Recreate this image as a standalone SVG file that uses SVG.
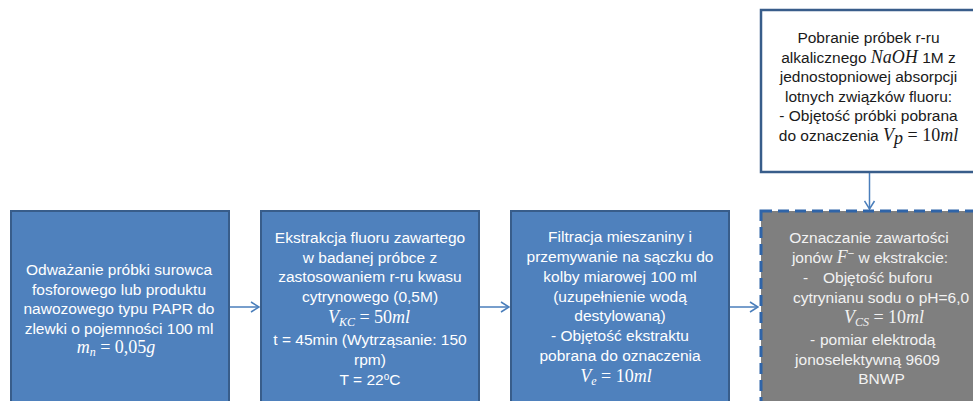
<svg xmlns="http://www.w3.org/2000/svg" width="973" height="401" viewBox="0 0 973 401">
<style>
.box{fill:#4f81bd;stroke:#385d8a;stroke-width:2}
.dash{fill:#7f7f7f;stroke:#2f64a8;stroke-width:3;stroke-dasharray:11 6}
.top{fill:#ffffff;stroke:#385d8a;stroke-width:2.5}
.t{font-family:"Liberation Sans",Arial,sans-serif;font-size:15.5px;text-anchor:middle;fill:#ffffff}
.tl{text-anchor:start}
.dk{fill:#1a1a1a}
.lt{fill:#f2f2f2}
.m{font-family:"Liberation Serif","DejaVu Serif",serif;font-style:italic;font-size:18px}
.n{font-style:normal}
.conn{stroke:#4a7ebb;stroke-width:1.5;fill:none}
</style>
<defs>
<marker id="arr" markerWidth="10" markerHeight="12" refX="9" refY="6" orient="auto" markerUnits="userSpaceOnUse">
<path d="M1,1 L9,6 L1,11" fill="none" stroke="#4a7ebb" stroke-width="1.5"/>
</marker>
</defs>
<rect width="973" height="401" fill="#ffffff"/>

<g id="connectors">
<line class="conn" x1="230" y1="307" x2="259" y2="307" marker-end="url(#arr)"/>
<line class="conn" x1="480" y1="307" x2="509" y2="307" marker-end="url(#arr)"/>
<line class="conn" x1="730" y1="307" x2="758" y2="307" marker-end="url(#arr)"/>
<line class="conn" x1="869.5" y1="173" x2="869.5" y2="209" marker-end="url(#arr)"/>
</g>

<g id="node1">
<rect class="box" x="11" y="211" width="218" height="196"/>
<text class="t" x="119" y="275">Odważanie próbki surowca</text>
<text class="t" x="119" y="294.5">fosforowego lub produktu</text>
<text class="t" x="119" y="314">nawozowego typu PAPR do</text>
<text class="t" x="119" y="333.5">zlewki o pojemności 100 ml</text>
<text class="t m" x="116" y="353">m<tspan dy="3" font-size="12">n</tspan><tspan dy="-3" class="n"> = 0,05</tspan>g</text>
</g>

<g id="node2">
<rect class="box" x="261" y="211" width="218" height="196"/>
<text class="t" x="370" y="243">Ekstrakcja fluoru zawartego</text>
<text class="t" x="370" y="262.5">w badanej próbce z</text>
<text class="t" x="370" y="282">zastosowaniem r-ru kwasu</text>
<text class="t" x="370" y="301.5">cytrynowego (0,5M)</text>
<text class="t m" x="369" y="323">V<tspan dy="3" font-size="12">KC</tspan><tspan dy="-3" class="n"> = 50</tspan>ml</text>
<text class="t" x="370" y="345">t = 45min (Wytrząsanie: 150</text>
<text class="t" x="370" y="364.5">rpm)</text>
<text class="t" x="370" y="384.5">T = 22<tspan dy="-5" font-size="10">o</tspan><tspan dy="5">C</tspan></text>
</g>

<g id="node3">
<rect class="box" x="511" y="211" width="218" height="196"/>
<text class="t" x="620" y="242">Filtracja mieszaniny i</text>
<text class="t" x="620" y="262">przemywanie na sączku do</text>
<text class="t" x="620" y="281.5">kolby miarowej 100 ml</text>
<text class="t" x="620" y="301.5">(uzupełnienie wodą</text>
<text class="t" x="620" y="321">destylowaną)</text>
<text class="t" x="620" y="341">- Objętość ekstraktu</text>
<text class="t" x="620" y="360.5">pobrana do oznaczenia</text>
<text class="t m" x="616" y="381.5">V<tspan dy="3" font-size="12">e</tspan><tspan dy="-3" class="n"> = 10</tspan>ml</text>
</g>

<g id="node4">
<rect class="dash" x="761" y="211" width="217" height="196"/>
<text class="t lt" x="869" y="243">Oznaczanie zawartości</text>
<text class="t lt" x="870" y="262.5">jonów <tspan class="m">F</tspan><tspan dy="-6" font-size="11">−</tspan><tspan dy="6"> w ekstrakcie:</tspan></text>
<text class="t tl lt" x="803" y="283">-</text>
<text class="t tl lt" x="823" y="283">Objętość buforu</text>
<text class="t lt" x="881" y="303">cytrynianu sodu o pH=6,0</text>
<text class="t m lt" x="884" y="323">V<tspan dy="3" font-size="12">CS</tspan><tspan dy="-3" class="n"> = 10</tspan>ml</text>
<text class="t tl lt" x="810" y="345">-</text>
<text class="t tl lt" x="820" y="345">pomiar elektrodą</text>
<text class="t lt" x="867.5" y="364.5">jonoselektywną 9609</text>
<text class="t lt" x="881.5" y="384">BNWP</text>
</g>

<g id="node5">
<rect class="top" x="761" y="10" width="217" height="162"/>
<text class="t dk" x="868.5" y="43">Pobranie próbek r-ru</text>
<text class="t dk" x="868.5" y="62.5">alkalicznego <tspan class="m">NaOH</tspan> 1M z</text>
<text class="t dk" x="868.5" y="82">jednostopniowej absorpcji</text>
<text class="t dk" x="868.5" y="101.5">lotnych związków fluoru:</text>
<text class="t dk" x="868.5" y="121">- Objętość próbki pobrana</text>
<text class="t dk" x="868.5" y="141">do oznaczenia <tspan class="m">V</tspan><tspan class="m" dy="3" font-size="12">p</tspan><tspan class="m n" dy="-3"> = 10</tspan><tspan class="m">ml</tspan></text>
</g>
</svg>
